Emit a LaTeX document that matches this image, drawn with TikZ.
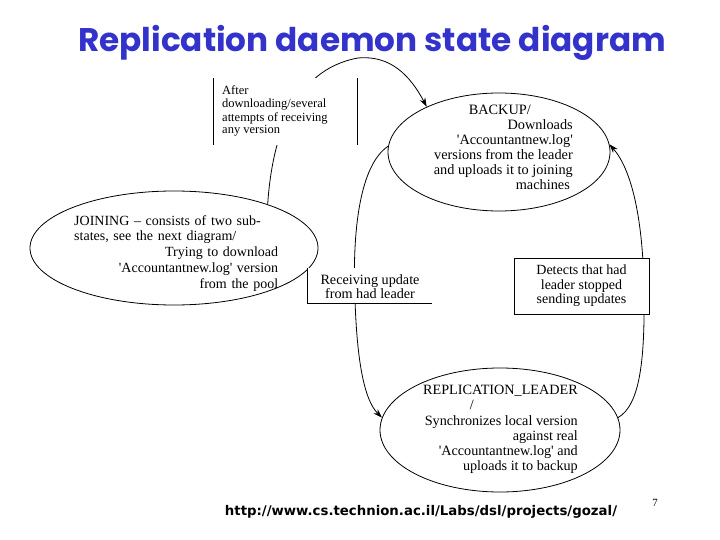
\documentclass[tikz,border=0pt]{standalone}
\usepackage{fontspec}
\setmainfont{Liberation Serif}
\newfontfamily\titlefont{Poppins}
\newfontfamily\urlfont{DejaVu Sans}
\usetikzlibrary{shapes.geometric,arrows.meta}
\definecolor{titleblue}{RGB}{51,51,204}
\newcommand{\q}{\textquotesingle}
\newcommand{\gap}[1]{\rule{#1}{0pt}}
\begin{document}
\begin{tikzpicture}[x=1pt,y=-1pt,
  state/.style={draw,ellipse,line width=0.8pt,inner sep=0pt},
  txt/.style={inner sep=0pt},
  conn/.style={line width=0.8pt,-{Stealth[length=9pt,width=6pt]}},
  frame/.style={line width=0.8pt}]
\useasboundingbox (0,0) rectangle (720,540);
% title
\node[font=\titlefont\bfseries\fontsize{32.7}{36}\selectfont,text=titleblue,inner sep=0pt] (title) at (372,43) {Replication daemon state diagram};
% states
\node[state,minimum width=222pt,minimum height=118pt] (backup) at (499,152) {};
\node[state,minimum width=288pt,minimum height=114pt] (joining) at (174,248) {};
\node[state,minimum width=240pt,minimum height=124pt] (leader) at (500,430) {};
% state texts
\node[txt,align=right,anchor=north east,font=\fontsize{14.3}{15}\selectfont] (backuptext) at (573,105) {BACKUP/\gap{42pt}\\Downloads\\\q Accountantnew.log\q\\versions from the leader\\and uploads it to joining\\machines\gap{3pt}};
\node[txt,align=left,text width=204pt,anchor=north west,font=\fontsize{14}{15.8}\selectfont] (joiningtext) at (74,215) {JOINING -- consists of two sub-\\states, see the next diagram/\\\hfill Trying to download\\\hfill \q Accountantnew.log\q{} version\\\hfill from the pool};
\node[txt,align=right,anchor=north east,font=\fontsize{14.2}{15.2}\selectfont] (leadertext) at (578,385) {REPLICATION\_LEADER\\/\gap{104pt}\\Synchronizes local version\\against real\\\q Accountantnew.log\q{} and\\uploads it to backup};
% connectors
\draw[conn] (joining.25) .. controls (272,140) and (292,70) .. (358,58) .. controls (390,55) and (410,75) .. (backup.148);
\draw[conn] (backup.177) .. controls (360,165) and (352,230) .. (355,300) .. controls (357,360) and (364,400) .. (leader.174);
\draw[conn] (leader.6) .. controls (640,405) and (645,360) .. (644,290) .. controls (643,220) and (632,170) .. (backup.4);
% labels on connectors
\fill[white] (213,78) rectangle (357,145);
\draw[frame] (213,78) -- (213,145) (357,78) -- (357,145);
\node[txt,align=left,anchor=north west,font=\fontsize{12.5}{13}\selectfont] (afterlabel) at (222,86) {After\\downloading/several\\attempts of receiving\\any version};
\fill[white] (307,268) rectangle (432,303);
\draw[frame] (307,268) -- (307,303) -- (432,303);
\node[txt,align=center,font=\fontsize{14.2}{14}\selectfont] (recvlabel) at (370,287) {Receiving update\\from had leader};
\node[draw,fill=white,line width=0.8pt,minimum width=135pt,minimum height=56pt,inner sep=0pt,align=center,font=\fontsize{14}{14.5}\selectfont] (detectlabel) at (581.5,286) {Detects that had\\leader stopped\\sending updates};
% footer
\node[font=\urlfont\bfseries\fontsize{13.3}{15}\selectfont,inner sep=0pt] (url) at (421,512) {http://www.cs.technion.ac.il/Labs/dsl/projects/gozal/};
\node[font=\fontsize{11}{12}\selectfont,inner sep=0pt] (pagenum) at (655,503) {7};
\end{tikzpicture}
\end{document}
